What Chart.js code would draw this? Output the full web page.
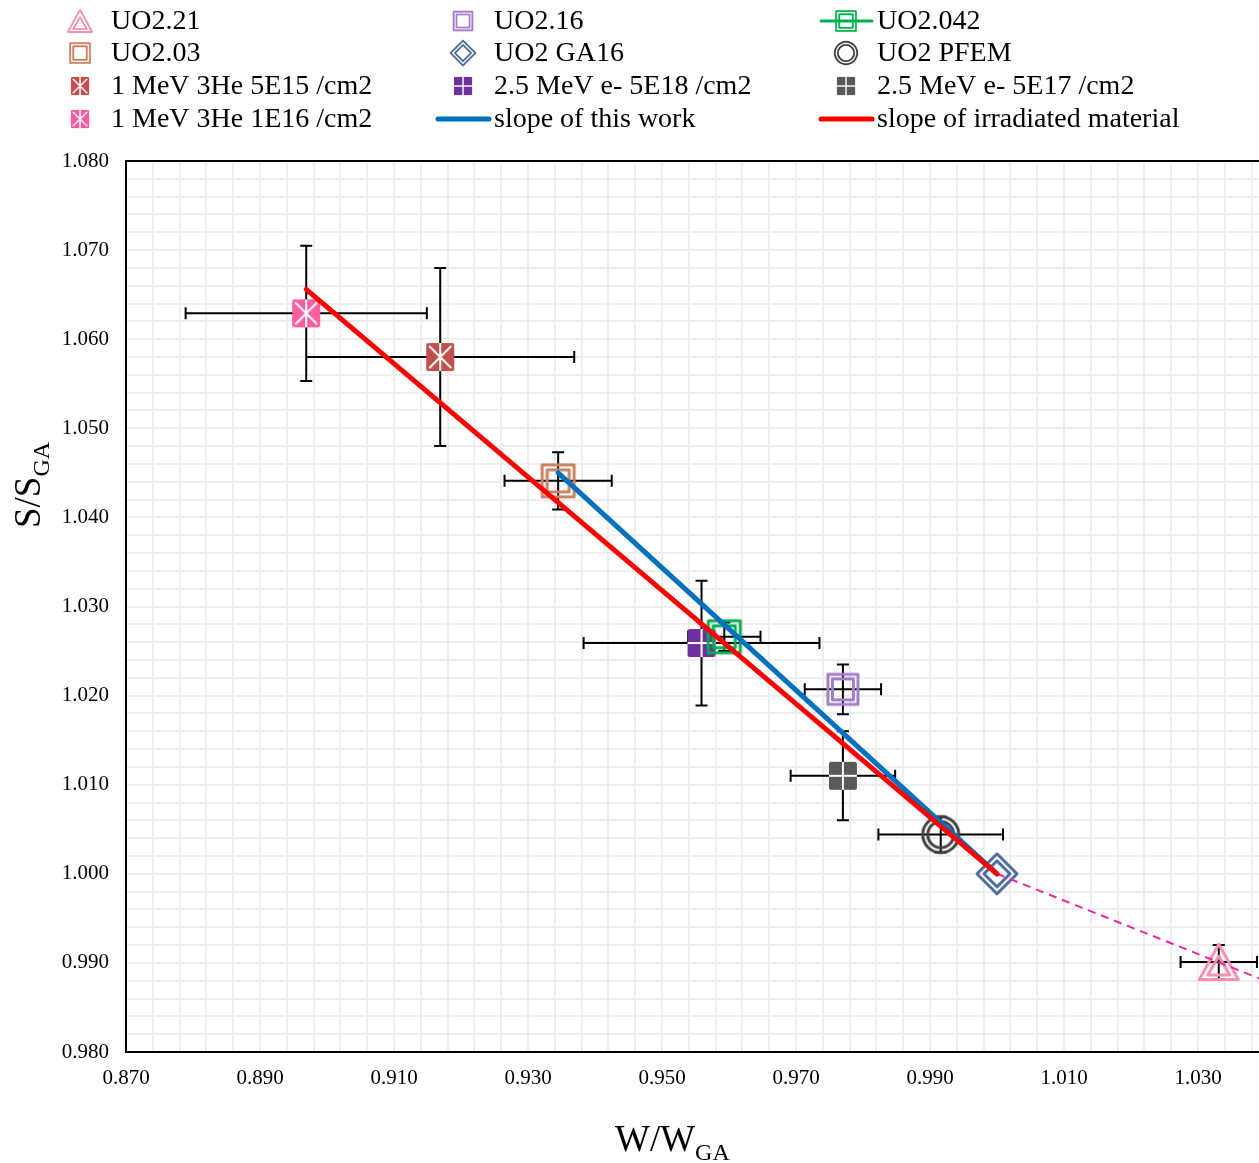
<!DOCTYPE html>
<html>
<head>
<meta charset="utf-8">
<script src="https://cdn.jsdelivr.net/npm/chart.js@4.4.0/dist/chart.umd.min.js"></script>
<style>
  html, body { margin: 0; padding: 0; background: #fff; overflow: hidden; }
  #c { display: block; }
</style>
</head>
<body>
<canvas id="c" width="1280" height="1163"></canvas>
<script>
// series values
const seriesNames = ["UO2.21", "UO2.16", "UO2.042", "UO2.03", "UO2 GA16", "UO2 PFEM",
  "1 MeV 3He 5E15 /cm2", "2.5 MeV e- 5E18 /cm2", "2.5 MeV e- 5E17 /cm2", "1 MeV 3He 1E16 /cm2"];
const wRatio = [1.0331, 0.9770, 0.9593, 0.9345, 1.0000, 0.9916, 0.9169, 0.9559, 0.9770, 0.8969];
const sRatio = [0.9901, 1.0207, 1.0266, 1.0441, 1.0000, 1.0044, 1.0580, 1.0259, 1.0110, 1.0629];
const wErr   = [0.0057, 0.0057, 0.0054, 0.0080, 0,      0.0093, 0.0200, 0.0176, 0.0078, 0.0180];
const sErr   = [0.0019, 0.0028, 0.0016, 0.0032, 0,      0.0020, 0.0100, 0.0070, 0.0050, 0.0076];
const seriesColors = ["#F590B5", "#A27DC9", "#00B050", "#C98260", "#4E6A9E", "#404040",
  "#C0504D", "#7030A0", "#595959", "#FF5C9D"];
const seriesMarkers = ["triangle2", "square2s", "square2", "square2", "diamond2", "circle2",
  "squareX", "squarePlus", "squarePlus", "squareX"];

const slopeThisW = [0.9345, 1.000];
const slopeThisS = [1.0450, 1.000];
const slopeIrrW = [0.8969, 1.000];
const slopeIrrS = [1.0656, 1.000];
const trendW = [1.000, 1.040];
const trendS = [1.000, 0.988];

const xTickLabels = ["0.870", "0.890", "0.910", "0.930", "0.950", "0.970", "0.990", "1.010", "1.030"];
const yTickLabels = ["0.980", "0.990", "1.000", "1.010", "1.020", "1.030", "1.040", "1.050", "1.060", "1.070", "1.080"];

const SERIF = "'Liberation Serif', 'Times New Roman', serif";

function makeMarker(kind, color) {
  const c = document.createElement('canvas');
  c.width = 48; c.height = 48;
  const g = c.getContext('2d');
  g.translate(24, 24);
  g.strokeStyle = color;
  g.fillStyle = color;
  g.lineWidth = 3;
  g.lineJoin = 'round';
  if (kind === 'square2') {
    g.strokeRect(-16, -16, 32, 32);
    g.strokeRect(-11, -11, 22, 22);
  } else if (kind === 'square2s') {
    g.strokeRect(-15, -15, 30, 30);
    g.strokeRect(-10.5, -10.5, 21, 21);
  } else if (kind === 'circle2') {
    g.beginPath(); g.arc(0, 0, 18, 0, Math.PI * 2); g.stroke();
    g.beginPath(); g.arc(0, 0, 13, 0, Math.PI * 2); g.stroke();
  } else if (kind === 'diamond2') {
    [20, 13].forEach(r => {
      g.beginPath();
      g.moveTo(0, -r); g.lineTo(r, 0); g.lineTo(0, r); g.lineTo(-r, 0); g.closePath();
      g.stroke();
    });
  } else if (kind === 'triangle2') {
    g.beginPath();
    g.moveTo(0, -18); g.lineTo(19.5, 17.5); g.lineTo(-19.5, 17.5); g.closePath(); g.stroke();
    g.beginPath();
    g.moveTo(0, -6); g.lineTo(11, 13); g.lineTo(-11, 13); g.closePath(); g.stroke();
  } else {
    g.beginPath();
    g.roundRect(-14, -14, 28, 28, 2);
    g.fill();
    g.strokeStyle = '#fff';
    g.lineWidth = 2;
    g.beginPath();
    if (kind === 'squareX') {
      g.moveTo(-11, -11); g.lineTo(11, 11);
      g.moveTo(11, -11); g.lineTo(-11, 11);
      g.moveTo(0, -14); g.lineTo(0, 14);
    } else {
      g.moveTo(0, -14); g.lineTo(0, 14);
      g.moveTo(-14, 0); g.lineTo(14, 0);
    }
    g.stroke();
  }
  return c;
}

const datasets = [];
seriesNames.forEach((name, i) => {
  const icon = makeMarker(seriesMarkers[i], seriesColors[i]);
  datasets.push({
    label: name,
    data: [{ x: wRatio[i], y: sRatio[i] }],
    pointStyle: icon,
    pointRadius: 12,
    order: 2,
    legendIcon: icon,
    legendScale: seriesMarkers[i].startsWith('square') && !seriesMarkers[i].includes('2') ? 0.66 : 0.62,
    legendLine: name === "UO2.042" ? seriesColors[i] : null
  });
});
datasets.push({
  label: "slope of this work",
  data: slopeThisW.map((w, i) => ({ x: w, y: slopeThisS[i] })),
  showLine: true, pointRadius: 0, borderColor: "#0070C0", borderWidth: 5,
  borderCapStyle: 'round', order: 1, legendLineOnly: "#0070C0"
});
datasets.push({
  label: "slope of irradiated material",
  data: slopeIrrW.map((w, i) => ({ x: w, y: slopeIrrS[i] })),
  showLine: true, pointRadius: 0, borderColor: "#FF0000", borderWidth: 5,
  borderCapStyle: 'round', order: 0, legendLineOnly: "#FF0000"
});
datasets.push({
  label: "trend",
  data: trendW.map((w, i) => ({ x: w, y: trendS[i] })),
  showLine: true, pointRadius: 0, borderColor: "#F0289E", borderWidth: 2,
  borderDash: [8, 6], order: 1, noLegend: true
});

// error bars under the markers
const errorBars = {
  id: 'errorBars',
  beforeDatasetsDraw(chart) {
    const { ctx, scales: { x, y } } = chart;
    ctx.save();
    ctx.strokeStyle = '#000';
    ctx.lineWidth = 2;
    ctx.beginPath();
    wRatio.forEach((w, i) => {
      const px = x.getPixelForValue(w), py = y.getPixelForValue(sRatio[i]);
      if (wErr[i] > 0) {
        const a = x.getPixelForValue(w - wErr[i]), b = x.getPixelForValue(w + wErr[i]);
        ctx.moveTo(a, py); ctx.lineTo(b, py);
        ctx.moveTo(a, py - 6); ctx.lineTo(a, py + 6);
        ctx.moveTo(b, py - 6); ctx.lineTo(b, py + 6);
      }
      if (sErr[i] > 0) {
        const a = y.getPixelForValue(sRatio[i] + sErr[i]), b = y.getPixelForValue(sRatio[i] - sErr[i]);
        ctx.moveTo(px, a); ctx.lineTo(px, b);
        ctx.moveTo(px - 6, a); ctx.lineTo(px + 6, a);
        ctx.moveTo(px - 6, b); ctx.lineTo(px + 6, b);
      }
    });
    ctx.stroke();
    ctx.restore();
  }
};

// frame, legend grid and axis titles with subscripts
const decorations = {
  id: 'decorations',
  afterDraw(chart) {
    const { ctx, chartArea: ca } = chart;
    ctx.save();
    ctx.strokeStyle = '#000';
    ctx.lineWidth = 2;
    ctx.strokeRect(ca.left, ca.top, ca.right - ca.left, ca.bottom - ca.top);

    // legend: 3 columns x 4 rows
    const cols = [80, 463, 846];
    const rows = [21, 53, 86, 119];
    const items = chart.data.datasets.filter(d => !d.noLegend);
    ctx.font = '28px ' + SERIF;
    ctx.textBaseline = 'middle';
    ctx.fillStyle = '#000';
    items.forEach((d, k) => {
      const cx = cols[k % 3], cy = rows[Math.floor(k / 3)];
      if (d.legendLineOnly || d.legendLine) {
        ctx.strokeStyle = d.legendLineOnly || d.legendLine;
        ctx.lineWidth = d.legendLineOnly ? 5 : 3;
        ctx.lineCap = 'round';
        ctx.beginPath(); ctx.moveTo(cx - 25, cy); ctx.lineTo(cx + 26, cy); ctx.stroke();
      }
      if (d.legendIcon) {
        const w = d.legendIcon.width * d.legendScale;
        ctx.drawImage(d.legendIcon, cx - w / 2, cy - w / 2, w, w);
      }
      ctx.fillText(d.label, cx + 31, cy + 1);
    });

    // x title
    ctx.textBaseline = 'alphabetic';
    ctx.textAlign = 'left';
    ctx.font = '37px ' + SERIF;
    const mx = ctx.measureText('W/W').width;
    const x0 = 615;
    ctx.fillText('W/W', x0, 1151);
    ctx.font = '24px ' + SERIF;
    ctx.fillText('GA', x0 + mx, 1160);

    // y title
    ctx.translate(40, 528);
    ctx.rotate(-Math.PI / 2);
    ctx.font = '37px ' + SERIF;
    const my = ctx.measureText('S/S').width;
    ctx.fillText('S/S', 0, 0);
    ctx.font = '24px ' + SERIF;
    ctx.fillText('GA', my, 9);
    ctx.restore();
  }
};

const xMinor = [];
for (let i = 0; i <= 42; i++) xMinor.push(+(0.870 + i * 0.004).toFixed(3));
const yMinor = [];
for (let i = 0; i <= 50; i++) yMinor.push(+(0.980 + i * 0.002).toFixed(3));

new Chart(document.getElementById('c'), {
  type: 'scatter',
  data: { datasets },
  options: {
    responsive: false,
    animation: false,
    events: [],
    layout: { padding: { top: 161, left: 0, right: 15, bottom: 0 } },
    plugins: { legend: { display: false }, tooltip: { enabled: false } },
    scales: {
      x: {
        type: 'linear', min: 0.870, max: 1.040,
        afterBuildTicks: s => { s.ticks = xMinor.map(v => ({ value: v })); },
        afterFit: s => { s.height = 111; },
        grid: { color: '#eeeeee', lineWidth: 2, drawTicks: false },
        border: { color: '#000', width: 2 },
        ticks: {
          autoSkip: false, maxRotation: 0, padding: 14, color: '#000',
          font: { family: SERIF, size: 21 },
          callback: (v, i) => (i % 5 === 0 ? xTickLabels[i / 5] : '')
        }
      },
      y: {
        type: 'linear', min: 0.980, max: 1.080,
        afterBuildTicks: s => { s.ticks = yMinor.map(v => ({ value: v })); },
        afterFit: s => { s.width = 126; },
        grid: { color: '#eeeeee', lineWidth: 2, drawTicks: false },
        border: { color: '#000', width: 2 },
        ticks: {
          autoSkip: false, padding: 17, color: '#000',
          font: { family: SERIF, size: 21 },
          callback: (v, i) => (i % 5 === 0 ? yTickLabels[i / 5] : '')
        }
      }
    }
  },
  plugins: [errorBars, decorations]
});
</script>
</body>
</html>
